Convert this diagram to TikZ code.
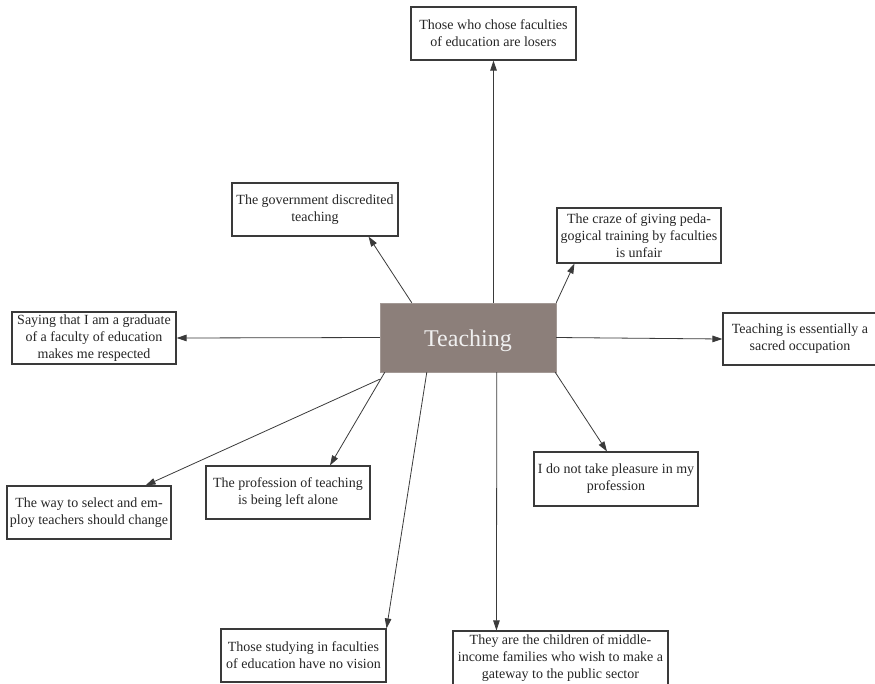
\documentclass[tikz,border=0pt]{standalone}
\usepackage{fontspec}
\setmainfont{Liberation Serif}
\usetikzlibrary{arrows.meta,calc}
\definecolor{hub}{HTML}{8C7F7A}
\definecolor{edge}{HTML}{3A3A3A}
\tikzset{
  box/.style={draw=edge, line width=1.1pt, fill=white, align=center, inner sep=0pt,
    font=\fontsize{14}{17}\selectfont, text=black!85},
  hubbox/.style={fill=hub, draw=hub!80!white, inner sep=0pt, minimum width=176pt, minimum height=69pt,
    font=\fontsize{24}{28}\selectfont, text=white!94!black},
  arr/.style={draw=edge, line width=0.8pt, -{Triangle[length=10pt,width=6.5pt]}}
}
\begin{document}
\begin{tikzpicture}[x=1pt,y=-1pt]
\useasboundingbox (0,0) rectangle (875,683);
\node[hubbox] (c) at (468,337.5) {\raisebox{-9pt}[0pt][0pt]{Teaching}};
\node[box, minimum width=165pt, minimum height=53pt] (top) at (493.5,33.5) {Those who chose faculties\\of education are losers};
\node[box, minimum width=166pt, minimum height=53pt] (gov) at (315,209.5) {The government discredited\\teaching};
\node[box, minimum width=164pt, minimum height=55pt] (craze) at (639,235.5) {The craze of giving peda-\\gogical training by faculties\\is unfair};
\node[box, minimum width=164pt, minimum height=52pt] (say) at (94,338) {Saying that I am a graduate\\of a faculty of education\\makes me respected};
\node[box, minimum width=154pt, minimum height=52pt] (sac) at (800,339) {Teaching is essentially a\\sacred occupation};
\node[box, minimum width=164pt, minimum height=54pt] (ple) at (616,479) {I do not take pleasure in my\\profession};
\node[box, minimum width=164pt, minimum height=53pt] (pro) at (288,492.5) {The profession of teaching\\is being left alone};
\node[box, minimum width=164pt, minimum height=53pt] (way) at (89,512.5) {The way to select and em-\\ploy teachers should change};
\node[box, minimum width=165pt, minimum height=53pt] (stu) at (303.5,655.5) {Those studying in faculties\\of education have no vision};
\node[box, minimum width=215pt, minimum height=54pt] (they) at (560.5,658) {They are the children of middle-\\income families who wish to make a\\gateway to the public sector};

\draw[arr] (c.north -| top.south) -- (top.south);
\draw[arr] ([xshift=32pt]c.north west) -- ([xshift=-30pt]gov.south east);
\draw[arr] (c.north east) -- ([xshift=18pt]craze.south west);
\draw[arr] (c.west) -- (say.east);
\draw[arr] (c.east) -- (sac.west);
\draw[arr] ([xshift=-1pt]c.south east) -- ([xshift=-9pt]ple.north);
\draw[arr] ([xshift=5pt]c.south west) -- ([xshift=42pt]pro.north);
\draw[arr] ([yshift=-7pt]c.south west) -- ([xshift=-26pt]way.north east);
\draw[arr] ([xshift=47pt]c.south west) -- (stu.north east);
\draw[arr] ([xshift=117pt]c.south west) -- ([xshift=44pt]they.north west);
\end{tikzpicture}
\end{document}
